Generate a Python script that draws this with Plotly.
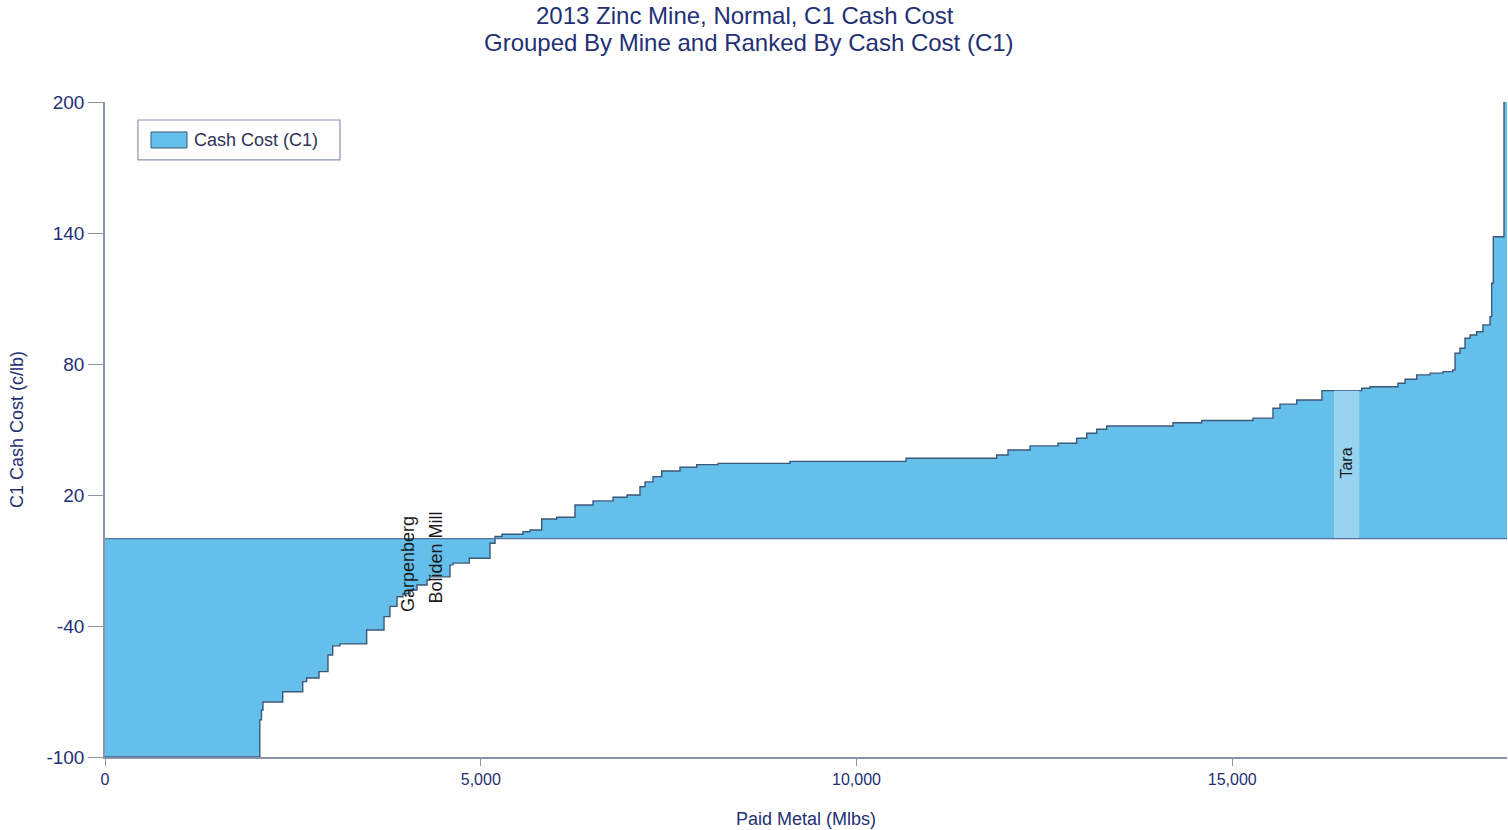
import plotly.graph_objects as go

# ---- data ----
step_start_mlbs = [0, 2060, 2082, 2102, 2365, 2631, 2684, 2848, 2967, 3030,
                   3127, 3482, 3713, 3792, 3886, 3965, 4059, 4152, 4285, 4325,
                   4591, 4631, 4848, 5123, 5190, 5283, 5562, 5655, 5811, 6011,
                   6254, 6494, 6760, 6946, 7119, 7186, 7292, 7408, 7651, 7874,
                   8157, 9115, 10659, 11865, 12016, 12309, 12681, 12930, 13063, 13196,
                   13329, 14212, 14593, 15276, 15542, 15635, 15858, 16194, 16723, 16833,
                   17205, 17299, 17454, 17631, 17804, 17933, 17964, 18030, 18097, 18164,
                   18253, 18336, 18430, 18452, 18474, 18616]
cash_cost = [-100, -83.0, -78.5, -74.8, -70.1, -65.5, -63.8, -60.9, -53.3, -49.1,
             -48.2, -41.8, -35.7, -31.0, -26.6, -25.3, -23.5, -21.2, -18.9, -17.5,
             -12.0, -11.2, -9.0, -2.1, 1.0, 2.0, 3.2, 4.0, 9.0, 9.8,
             15.4, 17.3, 19.0, 20.0, 23.8, 26.0, 28.4, 31.0, 32.7, 33.9,
             34.5, 35.4, 36.8, 38.3, 40.6, 42.5, 43.7, 46.0, 48.3, 50.1,
             51.6, 53.1, 54.1, 55.2, 59.7, 61.6, 63.5, 67.8, 68.9, 69.6,
             71.2, 73.0, 75.0, 75.8, 76.5, 77.3, 84.9, 87.2, 91.8, 93.3,
             94.8, 97.9, 101.7, 117.0, 138.3, 230.0]
total_mlbs = 18656

highlight_mine = "Tara"
highlight_start = 16354
highlight_end = 16691
highlight_cost = 67.8

label_names = ["Garpenberg", "Boliden Mill", "Tara"]
label_x = [4032, 4405, 16522]
label_y = [-11.6, -8.6, 34.7]

x_ticks = [0, 5000, 10000, 15000]
x_tick_text = ["0", "5,000", "10,000", "15,000"]
y_ticks = [-100, -40, 20, 80, 140, 200]
y_tick_text = ["-100", "-40", "20", "80", "140", "200"]

title_lines = ["2013 Zinc Mine, Normal, C1 Cash Cost",
               "Grouped By Mine and Ranked By Cash Cost (C1)"]

assert len(step_start_mlbs) == len(cash_cost)

FILL = "#64bfeb"
EDGE = "#3c5878"
NAVY = "#243074"
AXIS = "#8a93a8"
FONT = "Liberation Sans, Arial, sans-serif"

fig = go.Figure()

fig.add_trace(go.Scatter(
    x=step_start_mlbs + [total_mlbs],
    y=cash_cost + [cash_cost[-1]],
    mode="lines",
    line=dict(shape="hv", color=EDGE, width=1.4),
    fill="tozeroy",
    fillcolor=FILL,
    showlegend=False,
    hoverinfo="skip",
))

# highlighted mine (Tara)
fig.add_trace(go.Scatter(
    x=[highlight_start, highlight_start, highlight_end, highlight_end],
    y=[0, highlight_cost, highlight_cost, 0],
    mode="none",
    fill="toself",
    fillcolor="#98d3f0",
    showlegend=False,
    hoverinfo="skip",
))

# zero reference line
fig.add_shape(type="line", xref="paper", x0=0, x1=1, yref="y", y0=0, y1=0,
              line=dict(color="#55709e", width=1.3), layer="above")

label_sizes = [18, 18, 16]
for name, lx, ly, fs in zip(label_names, label_x, label_y, label_sizes):
    fig.add_annotation(x=lx, y=ly, text=name, textangle=-90, showarrow=False,
                       font=dict(family=FONT, size=fs, color="#1a1a1a"))

# title (two lines)
fig.add_annotation(xref="paper", yref="paper", x=0.4565, y=1.1328, yanchor="middle",
                   text=title_lines[0], showarrow=False,
                   font=dict(family=FONT, size=24, color=NAVY))
fig.add_annotation(xref="paper", yref="paper", x=0.4593, y=1.0916, yanchor="middle",
                   text=title_lines[1], showarrow=False,
                   font=dict(family=FONT, size=24, color=NAVY))

# manual legend
fig.add_shape(type="rect", xref="paper", yref="paper",
              x0=0.0235, x1=0.1676, y0=0.9115, y1=0.9725,
              line=dict(color="#8a93b0", width=1.2), fillcolor="white", layer="above")
fig.add_shape(type="rect", xref="paper", yref="paper",
              x0=0.0328, x1=0.0585, y0=0.9298, y1=0.9542,
              line=dict(color=EDGE, width=1), fillcolor=FILL, layer="above")
fig.add_annotation(xref="paper", yref="paper", x=0.0620, y=0.942, xanchor="left",
                   yanchor="middle", text="Cash Cost (C1)", showarrow=False,
                   font=dict(family=FONT, size=18, color="#2e3358"))

fig.update_layout(
    width=1508, height=830,
    margin=dict(l=105, r=1, t=102, b=73),
    paper_bgcolor="white", plot_bgcolor="white",
    font=dict(family=FONT, color=NAVY),
    xaxis=dict(range=[0, total_mlbs], tickvals=x_ticks, ticktext=x_tick_text,
               showgrid=False, zeroline=False, showline=True, linecolor=AXIS, linewidth=1.5,
               ticks="outside", ticklen=7, tickcolor=AXIS,
               tickfont=dict(family=FONT, size=16, color=NAVY),
               title=dict(text="Paid Metal (Mlbs)", standoff=25,
                          font=dict(family=FONT, size=18, color=NAVY))),
    yaxis=dict(range=[-100, 200], tickvals=y_ticks, ticktext=y_tick_text,
               showgrid=False, zeroline=False, showline=True, linecolor=AXIS, linewidth=1.5,
               ticks="outside", ticklen=15, tickcolor=AXIS,
               tickfont=dict(family=FONT, size=19, color=NAVY),
               title=dict(text="C1 Cash Cost (c/lb)", standoff=18,
                          font=dict(family=FONT, size=18, color=NAVY))),
)

fig.write_html("out.html", config={"displayModeBar": False},
               post_script="document.body.style.margin='0';")
